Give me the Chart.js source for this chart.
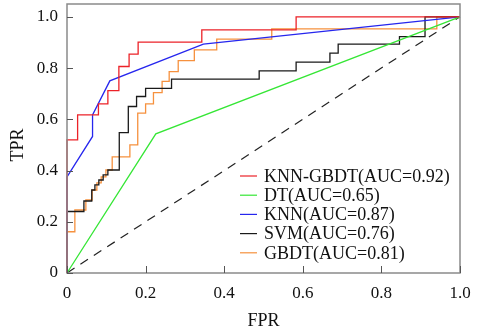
<!DOCTYPE html>
<html>
<head>
<meta charset="utf-8">
<script src="https://cdn.jsdelivr.net/npm/chart.js@4"></script>
<style>
  body { margin: 0; background: #fff; }
  #wrap { width: 483px; height: 332px; }
</style>
</head>
<body>
<div id="wrap"><canvas id="roc" width="483" height="332"></canvas></div>
<script>
// ROC curves (corner points, step = right then up)
const knnGbdtFpr = [0, 0, 0.027, 0.080, 0.104, 0.132, 0.158, 0.181, 0.343, 0.583, 1];
const knnGbdtTpr = [0, 0.52, 0.617, 0.660, 0.712, 0.806, 0.854, 0.901, 0.949, 1, 1];

const dtFpr = [0, 0.226, 1];
const dtTpr = [0, 0.543, 1];

const knnFpr = [0, 0, 0.065, 0.065, 0.109, 0.347, 1];
const knnTpr = [0, 0.375, 0.533, 0.617, 0.750, 0.893, 1];

const svmFpr = [0, 0, 0.043, 0.063, 0.071, 0.081, 0.092, 0.104, 0.133, 0.156, 0.177, 0.200, 0.266, 0.489, 0.583, 0.669, 0.690, 0.846, 0.911, 1];
const svmTpr = [0, 0.24, 0.281, 0.324, 0.344, 0.363, 0.383, 0.402, 0.548, 0.650, 0.689, 0.721, 0.757, 0.789, 0.823, 0.858, 0.893, 0.923, 1, 1];

const gbdtFpr = [0, 0, 0.020, 0.048, 0.064, 0.076, 0.087, 0.099, 0.115, 0.160, 0.180, 0.200, 0.220, 0.242, 0.260, 0.283, 0.324, 0.381, 0.521, 0.941, 1];
const gbdtTpr = [0, 0.161, 0.246, 0.285, 0.324, 0.352, 0.375, 0.402, 0.453, 0.500, 0.624, 0.660, 0.704, 0.748, 0.786, 0.829, 0.871, 0.913, 0.953, 1, 1];

const chanceFpr = [0, 1];
const chanceTpr = [0, 1];

const seriesLabels = ['KNN-GBDT(AUC=0.92)', 'DT(AUC=0.65)', 'KNN(AUC=0.87)', 'SVM(AUC=0.76)', 'GBDT(AUC=0.81)'];
const seriesColors = ['#ec2228', '#35e635', '#2626ee', '#1a1a1a', '#f6913e'];

const xTicks = [0, 0.2, 0.4, 0.6, 0.8, 1.0];
const yTicks = [0, 0.2, 0.4, 0.6, 0.8, 1.0];

const serif = "'Liberation Serif', 'Times New Roman', serif";

function toPoints(xs, ys) {
    return xs.map((x, i) => ({ x: x, y: ys[i] }));
}
function fmt(v) {
    return v === 0 ? '0' : v.toFixed(1);
}

function curve(i, xs, ys, stepped) {
    return {
        label: seriesLabels[i],
        data: toPoints(xs, ys),
        borderColor: seriesColors[i],
        borderWidth: 1.3,
        stepped: stepped ? 'before' : false,
        pointRadius: 0,
        tension: 0,
        clip: false
    };
}

// frame, inward ticks, axis titles and legend
const framePlugin = {
    id: 'frame',
    afterDraw(chart) {
        const ctx = chart.ctx;
        const a = chart.chartArea;
        const xs = chart.scales.x, ys = chart.scales.y;
        ctx.save();
        ctx.strokeStyle = '#8a8a8a';
        ctx.lineWidth = 1.5;
        ctx.strokeRect(a.left, a.top, a.right - a.left, a.bottom - a.top);
        ctx.lineWidth = 1;
        ctx.strokeStyle = '#555';
        ctx.beginPath();
        xTicks.forEach(v => {
            const px = Math.round(xs.getPixelForValue(v)) + 0.5;
            ctx.moveTo(px, a.bottom);
            ctx.lineTo(px, a.bottom - 7);
        });
        yTicks.forEach(v => {
            const py = Math.round(ys.getPixelForValue(v)) + 0.5;
            ctx.moveTo(a.left, py);
            ctx.lineTo(a.left + 6, py);
        });
        ctx.stroke();

        // axis titles
        ctx.fillStyle = '#111';
        ctx.font = '18px ' + serif;
        ctx.textAlign = 'center';
        ctx.textBaseline = 'middle';
        ctx.fillText('FPR', (xs.getPixelForValue(0) + xs.getPixelForValue(1)) / 2, 321);
        ctx.save();
        ctx.translate(18, (ys.getPixelForValue(0) + ys.getPixelForValue(1)) / 2);
        ctx.rotate(-Math.PI / 2);
        ctx.fillText('TPR', 0, 0);
        ctx.restore();

        // legend inside the plot
        ctx.textAlign = 'left';
        ctx.font = '18px ' + serif;
        seriesLabels.forEach((lab, i) => {
            const y = 176 + i * 19.2;
            ctx.strokeStyle = seriesColors[i];
            ctx.lineWidth = 1.2;
            ctx.beginPath();
            ctx.moveTo(240, y);
            ctx.lineTo(257, y);
            ctx.stroke();
            ctx.fillStyle = '#111';
            ctx.fillText(lab, 264, y + 1);
        });
        ctx.restore();
    }
};

new Chart(document.getElementById('roc'), {
    type: 'line',
    data: {
        datasets: [
            curve(0, knnGbdtFpr, knnGbdtTpr, true),
            curve(1, dtFpr, dtTpr, false),
            curve(2, knnFpr, knnTpr, false),
            curve(3, svmFpr, svmTpr, true),
            curve(4, gbdtFpr, gbdtTpr, true),
            {
                label: 'chance',
                data: toPoints(chanceFpr, chanceTpr),
                borderColor: '#222',
                borderWidth: 1.2,
                borderDash: [9, 7],
                pointRadius: 0,
                clip: false
            }
        ]
    },
    options: {
        responsive: false,
        animation: false,
        layout: { padding: { top: 4, right: 23, left: 0, bottom: 0 } },
        plugins: {
            legend: { display: false },
            tooltip: { enabled: false }
        },
        scales: {
            x: {
                type: 'linear',
                min: 0,
                max: 1,
                grid: { display: false, drawTicks: false },
                border: { display: false },
                afterBuildTicks: s => { s.ticks = xTicks.map(v => ({ value: v })); },
                afterFit: s => { s.height = 59; s.paddingLeft = 0; s.paddingRight = 0; },
                ticks: {
                    padding: 10,
                    color: '#111',
                    font: { family: serif, size: 17 },
                    callback: v => fmt(v)
                }
            },
            y: {
                type: 'linear',
                min: 0,
                max: 1.05,
                grid: { display: false, drawTicks: false },
                border: { display: false },
                afterBuildTicks: s => { s.ticks = yTicks.map(v => ({ value: v })); },
                afterFit: s => { s.width = 67; s.paddingTop = 0; s.paddingBottom = 0; },
                ticks: {
                    padding: 9,
                    color: '#111',
                    font: { family: serif, size: 17 },
                    callback: v => fmt(v)
                }
            }
        }
    },
    plugins: [framePlugin]
});
</script>
</body>
</html>
